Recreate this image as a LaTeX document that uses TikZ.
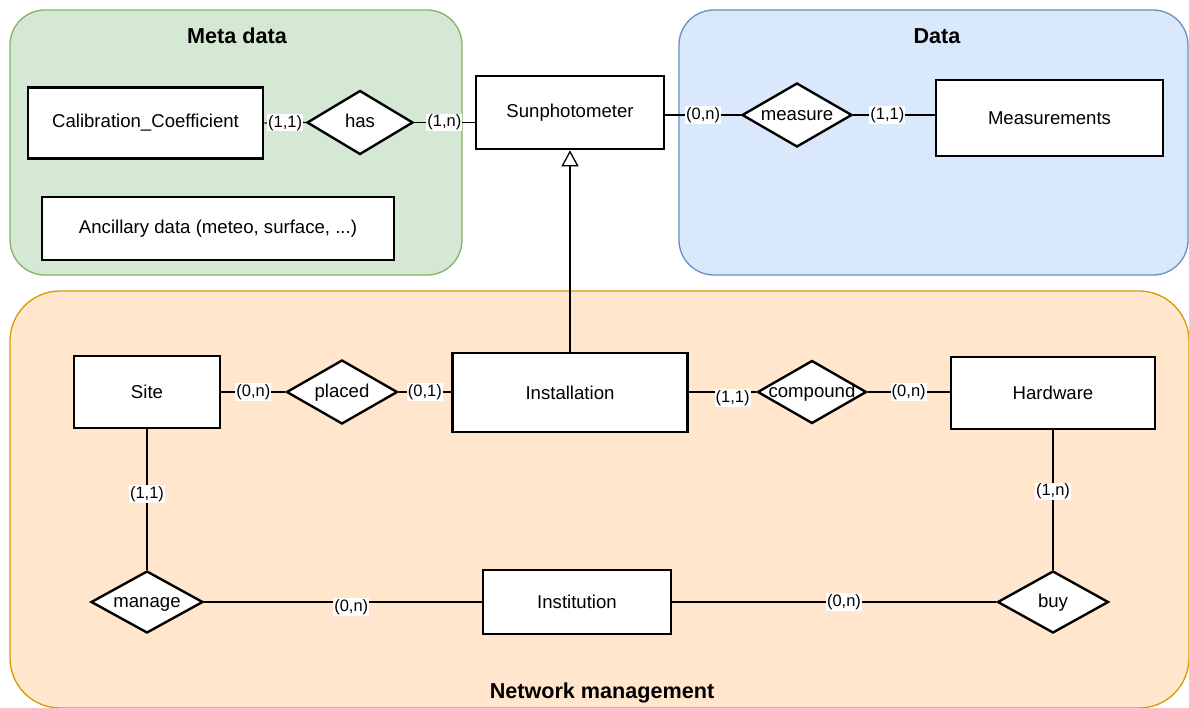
\documentclass[tikz,border=0pt]{standalone}
\usepackage{fontspec}
\setmainfont{Liberation Sans}
\usetikzlibrary{shapes.geometric,arrows.meta}
\definecolor{gfill}{HTML}{D5E8D4}
\definecolor{gline}{HTML}{82B366}
\definecolor{bfill}{HTML}{DAE8FC}
\definecolor{bline}{HTML}{6C8EBF}
\definecolor{ofill}{HTML}{FFE6CC}
\definecolor{oline}{HTML}{D79B00}
\begin{document}
\begin{tikzpicture}[x=1pt,y=-1pt,
  cont/.style={line width=1.3pt},
  ttl/.style={font=\fontsize{21.6}{24}\selectfont\bfseries, inner sep=0pt},
  ent/.style={draw=black, fill=white, line width=2.6pt, rectangle, inner sep=0pt,
    font=\fontsize{18.6}{21}\selectfont},
  rel/.style={draw=black, fill=white, line width=2.4pt, diamond, inner sep=0pt,
    text height=13.5pt, text depth=3pt,
    font=\fontsize{18.6}{21}\selectfont},
  conn/.style={line width=1.3pt, draw=black},
  lbl/.style={fill=white, inner sep=1pt, font=\fontsize{16.5}{18}\selectfont}
]
\useasboundingbox (0,0) rectangle (1189,707);
% containers
\draw[cont, fill=gfill, draw=gline, rounded corners=35pt] (10,10) rectangle (462,275);
\draw[cont, fill=bfill, draw=bline, rounded corners=35pt] (679,10) rectangle (1188,275);
\draw[cont, fill=ofill, draw=oline, rounded corners=50pt] (10,291) rectangle (1189,708);
\node[ttl] (tmeta) at (237,36) {Meta data};
\node[ttl] (tdata) at (937,36) {Data};
\node[ttl] (tnet) at (602,693) {Network management};
% entities
\node[ent, minimum width=235, minimum height=71] (calib) at (145.5,123) {Calibration\_Coefficient};
\node[ent, minimum width=352, minimum height=63] (anc) at (218,228.5) {Ancillary data (meteo, surface, ...)};
\node[ent, minimum width=188, minimum height=73] (sun) at (570,112.5) {Sunphotometer};
\node[ent, minimum width=227, minimum height=76] (meas) at (1049.5,118) {Measurements};
\node[ent, minimum width=146, minimum height=72] (site) at (147,392) {Site};
\node[ent, minimum width=235, minimum height=79] (inst) at (570,392.5) {Installation};
\node[ent, minimum width=204, minimum height=72] (hw) at (1053,393) {Hardware};
\node[ent, minimum width=188, minimum height=64] (instn) at (577,602) {Institution};
% relations
\node[rel, minimum width=106, minimum height=64] (has) at (360,122.5) {\makebox[0pt]{has}};
\node[rel, minimum width=110, minimum height=64] (measure) at (797,115) {\makebox[0pt]{measure}};
\node[rel, minimum width=111, minimum height=64] (placed) at (342,392) {\makebox[0pt]{placed}};
\node[rel, minimum width=109, minimum height=63] (compound) at (812,392) {\makebox[0pt]{compound}};
\node[rel, minimum width=112, minimum height=62] (manage) at (147,602) {\makebox[0pt]{manage}};
\node[rel, minimum width=111, minimum height=62] (buy) at (1053,602) {\makebox[0pt]{buy}};
% connectors
\draw[conn] (calib.east) -- node[lbl] {(1,1)} (has.west);
\draw[conn] (has.east) -- node[lbl] {(1,n)} (has.east -| sun.west);
\draw[conn] (measure.west -| sun.east) -- node[lbl] {(0,n)} (measure.west);
\draw[conn] (measure.east) -- node[lbl, pos=0.42] {(1,1)} (measure.east -| meas.west);
\draw[conn] (site.east) -- node[lbl] {(0,n)} (placed.west);
\draw[conn] (placed.east) -- node[lbl] {(0,1)} (inst.west |- placed.east);
\draw[conn] (inst.east |- compound.west) -- node[lbl, pos=0.65, yshift=-6pt] {(1,1)} (compound.west);
\draw[conn] (compound.east) -- node[lbl] {(0,n)} (compound.east -| hw.west);
\draw[conn] (site.south) -- node[lbl, pos=0.46] {(1,1)} (manage.north);
\draw[conn] (hw.south) -- node[lbl, pos=0.44] {(1,n)} (buy.north);
\draw[conn] (manage.east) -- node[lbl, pos=0.53, yshift=-5pt] {(0,n)} (instn.west);
\draw[conn] (instn.east) -- node[lbl, pos=0.53] {(0,n)} (buy.west);
\draw[conn, -{Triangle[open, length=16pt, width=17pt, fill=white]}] (inst.north) -- (sun.south);
\end{tikzpicture}
\end{document}
